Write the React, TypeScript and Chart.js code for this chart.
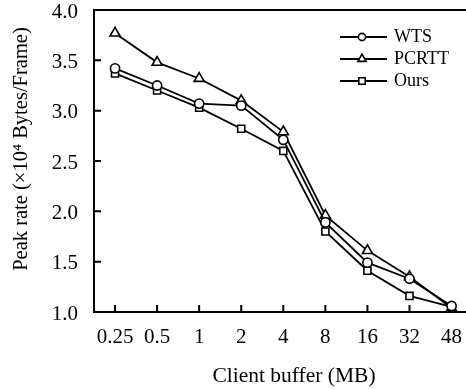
import React, { useEffect, useRef } from 'react';
import { Chart, registerables } from 'chart.js';

Chart.register(...registerables);

const categories = ['0.25', '0.5', '1', '2', '4', '8', '16', '32', '48'];
const wtsValues = [3.42, 3.25, 3.07, 3.05, 2.71, 1.89, 1.49, 1.33, 1.06];
const pcrttValues = [3.77, 3.48, 3.32, 3.10, 2.79, 1.96, 1.61, 1.35, 1.04];
const oursValues = [3.37, 3.20, 3.03, 2.82, 2.60, 1.80, 1.41, 1.16, 1.05];
const yTickValues = [1.0, 1.5, 2.0, 2.5, 3.0, 3.5, 4.0];
const seriesNames = ['WTS', 'PCRTT', 'Ours'];
const seriesMarkers = ['circle', 'triangle', 'rect'];
const xTitle = 'Client buffer (MB)';
const yTitle = 'Peak rate (×10⁴ Bytes/Frame)';

const FONT = "'Times New Roman', 'Liberation Serif', serif";

function drawMarker(ctx: CanvasRenderingContext2D, style: string, x: number, y: number, r: number) {
  ctx.beginPath();
  if (style === 'circle') {
    ctx.arc(x, y, r, 0, Math.PI * 2);
  } else if (style === 'triangle') {
    ctx.moveTo(x, y - r);
    ctx.lineTo(x + r * 0.866, y + r * 0.5);
    ctx.lineTo(x - r * 0.866, y + r * 0.5);
    ctx.closePath();
  } else {
    ctx.rect(x - r, y - r, 2 * r, 2 * r);
  }
  ctx.fillStyle = '#fff';
  ctx.fill();
  ctx.stroke();
}

const framePlugin = {
  id: 'frame',
  beforeDatasetsDraw(chart: any) {
    const { ctx, chartArea } = chart;
    const { left, top, right, bottom } = chartArea;
    const xs = chart.scales.x;
    const ys = chart.scales.y;
    ctx.save();
    ctx.strokeStyle = '#000';
    ctx.lineWidth = 2;
    ctx.beginPath();
    ctx.moveTo(left, top);
    ctx.lineTo(right, top);
    ctx.lineTo(right, bottom);
    ctx.lineTo(left, bottom);
    ctx.closePath();
    ctx.stroke();
    ctx.beginPath();
    yTickValues.forEach((v) => {
      const py = ys.getPixelForValue(v);
      ctx.moveTo(left, py);
      ctx.lineTo(left + 7, py);
    });
    categories.forEach((_c, i) => {
      const px = xs.getPixelForValue(i);
      ctx.moveTo(px, bottom);
      ctx.lineTo(px, bottom - 7);
    });
    ctx.stroke();
    ctx.restore();
  },
  afterDraw(chart: any) {
    const { ctx, chartArea } = chart;
    ctx.save();
    ctx.fillStyle = '#000';
    ctx.textAlign = 'center';
    ctx.textBaseline = 'middle';
    ctx.font = `21.5px ${FONT}`;
    ctx.fillText(xTitle, chartArea.left + 200, chartArea.bottom + 64);
    ctx.translate(chartArea.left - 72, chartArea.top + 139);
    ctx.rotate(-Math.PI / 2);
    ctx.font = `20.5px ${FONT}`;
    ctx.fillText(yTitle, 0, 0);
    ctx.restore();
  },
};

const legendPlugin = {
  id: 'lineLegend',
  afterDraw(chart: any) {
    const { ctx, chartArea } = chart;
    const x0 = chartArea.left + 246;
    const y0 = chartArea.top + 27;
    const radii = [3.6, 4.8, 3.2];
    ctx.save();
    chart.data.datasets.forEach((ds: any, i: number) => {
      const yy = y0 + i * 22;
      ctx.strokeStyle = '#000';
      ctx.lineWidth = 1.8;
      ctx.beginPath();
      ctx.moveTo(x0, yy);
      ctx.lineTo(x0 + 47, yy);
      ctx.stroke();
      ctx.lineWidth = 1.6;
      drawMarker(ctx, seriesMarkers[i], x0 + 22, yy, radii[i]);
      ctx.fillStyle = '#000';
      ctx.font = `18px ${FONT}`;
      ctx.textAlign = 'left';
      ctx.textBaseline = 'middle';
      ctx.fillText(ds.label, x0 + 54, yy);
    });
    ctx.restore();
  },
};

export default function App() {
  const ref = useRef<HTMLCanvasElement | null>(null);

  useEffect(() => {
    if (!ref.current) return;
    const values = [wtsValues, pcrttValues, oursValues];
    const radii = [4.6, 5.8, 5.0];
    const chart = new Chart(ref.current, {
      type: 'line',
      data: {
        labels: categories,
        datasets: seriesNames.map((name, i) => ({
          label: name,
          data: values[i],
          borderColor: '#000',
          borderWidth: 1.8,
          backgroundColor: '#fff',
          pointStyle: seriesMarkers[i] as any,
          pointRadius: radii[i],
          pointBackgroundColor: '#fff',
          pointBorderColor: '#000',
          pointBorderWidth: 1.6,
          tension: 0,
          fill: false,
          clip: false as any,
        })),
      },
      options: {
        animation: false,
        responsive: false,
        devicePixelRatio: 1,
        events: [],
        layout: { padding: { top: 10, right: 6, left: 0, bottom: 0 } },
        plugins: {
          legend: { display: false },
          tooltip: { enabled: false },
        },
        scales: {
          x: {
            type: 'category',
            offset: true,
            grid: { display: false, drawTicks: false },
            border: { display: false },
            ticks: {
              color: '#000',
              font: { family: FONT, size: 21, lineHeight: 1 },
              padding: 15,
              maxRotation: 0,
              autoSkip: false,
            },
            title: { display: false },
            afterFit: (s: any) => {
              s.height = 77;
              s.paddingLeft = 0;
              s.paddingRight = 0;
            },
          },
          y: {
            min: 1,
            max: 4,
            afterBuildTicks: (s: any) => {
              s.ticks = yTickValues.map((v) => ({ value: v }));
            },
            grid: { display: false, drawTicks: false },
            border: { display: false },
            ticks: {
              color: '#000',
              font: { family: FONT, size: 21, lineHeight: 1 },
              padding: 16,
              labelOffset: 2,
              callback: (v: any) => Number(v).toFixed(1),
            },
            title: { display: false },
            afterFit: (s: any) => {
              s.width = 94;
              s.paddingTop = 0;
              s.paddingBottom = 0;
            },
          },
        },
      },
      plugins: [framePlugin, legendPlugin],
    });
    return () => chart.destroy();
  }, []);

  return (
    <div
      style={{
        position: 'fixed',
        left: 0,
        top: 0,
        width: 466,
        height: 389,
        overflow: 'hidden',
        background: '#fff',
      }}
    >
      <canvas ref={ref} width={480} height={389} style={{ display: 'block', width: 480, height: 389 }} />
    </div>
  );
}
